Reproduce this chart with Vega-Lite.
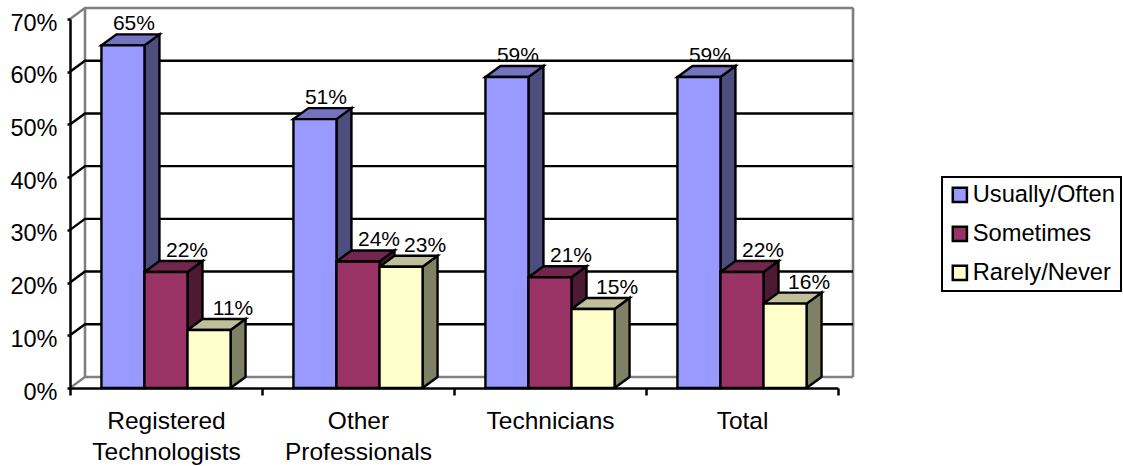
{
  "$schema": "https://vega.github.io/schema/vega-lite/v6.json",
  "width": 768,
  "height": 369,
  "autosize": {"type": "none"},
  "padding": {"left": 70, "top": 19, "right": 285, "bottom": 78},
  "background": "#ffffff",
  "config": {
    "view": {"stroke": null},
    "font": "Liberation Sans",
    "legend": {"strokeWidth": 2}
  },
  "datasets": {
    "ticks": [{"tick": 0}, {"tick": 0.1}, {"tick": 0.2}, {"tick": 0.3}, {"tick": 0.4}, {"tick": 0.5}, {"tick": 0.6}, {"tick": 0.7}],
    "answers": [
      {"group": "Registered Technologists", "series": "Usually/Often", "value": 0.65},
      {"group": "Registered Technologists", "series": "Sometimes", "value": 0.22},
      {"group": "Registered Technologists", "series": "Rarely/Never", "value": 0.11},
      {"group": "Other Professionals", "series": "Usually/Often", "value": 0.51},
      {"group": "Other Professionals", "series": "Sometimes", "value": 0.24},
      {"group": "Other Professionals", "series": "Rarely/Never", "value": 0.23},
      {"group": "Technicians", "series": "Usually/Often", "value": 0.59},
      {"group": "Technicians", "series": "Sometimes", "value": 0.21},
      {"group": "Technicians", "series": "Rarely/Never", "value": 0.15},
      {"group": "Total", "series": "Usually/Often", "value": 0.59},
      {"group": "Total", "series": "Sometimes", "value": 0.22},
      {"group": "Total", "series": "Rarely/Never", "value": 0.16}
    ]
  },
  "data": {"name": "answers"},
  "encoding": {
    "x": {
      "field": "group",
      "type": "nominal",
      "sort": ["Registered Technologists", "Other Professionals", "Technicians", "Total"],
      "scale": {"paddingInner": 0, "paddingOuter": 0},
      "title": null,
      "axis": {
        "labelAngle": 0,
        "labelExpr": "split(datum.label, ' ')",
        "labelLineHeight": 31,
        "labelFontSize": 24.5,
        "labelColor": "#000000",
        "labelFont": "Liberation Sans",
        "labelPadding": 14,
        "labelLimit": 300,
        "tickBand": "extent",
        "tickSize": 7,
        "tickWidth": 2.5,
        "tickColor": "#000000",
        "domainColor": "#000000",
        "domainWidth": 2.5,
        "grid": false,
        "zindex": 1
      }
    },
    "y": {
      "field": "value",
      "type": "quantitative",
      "scale": {"domain": [0, 0.7], "nice": false},
      "title": null,
      "axis": {
        "values": [0, 0.1, 0.2, 0.3, 0.4, 0.5, 0.6, 0.7],
        "format": ".0%",
        "labelFontSize": 23.5,
        "labelColor": "#000000",
        "labelFont": "Liberation Sans",
        "labelPadding": 10,
        "labelOffset": 4,
        "tickSize": 3,
        "tickWidth": 2.5,
        "tickColor": "#000000",
        "domainColor": "#000000",
        "domainWidth": 2.5,
        "grid": false,
        "zindex": 1
      }
    }
  },
  "layer": [
    {
      "data": {"name": "ticks"},
      "transform": [{"filter": "datum.tick < 0.65"}],
      "mark": {"type": "point", "shape": "M15,-11 L15,-64", "size": 4, "filled": false, "strokeWidth": 2.6, "opacity": 1, "color": "#808080"},
      "encoding": {
        "x": {"datum": "Registered Technologists", "bandPosition": 0},
        "y": {"field": "tick", "type": "quantitative"}
      }
    },
    {
      "data": {"name": "ticks"},
      "transform": [{"filter": "datum.tick < 0.65"}],
      "mark": {"type": "point", "shape": "M15,-11 L15,-64", "size": 4, "filled": false, "strokeWidth": 2.6, "opacity": 1, "color": "#808080"},
      "encoding": {
        "x": {"datum": "Total", "bandPosition": 1},
        "y": {"field": "tick", "type": "quantitative"}
      }
    },
    {
      "data": {"name": "ticks"},
      "mark": {"type": "point", "shape": "M0,0 L15,-11 L783,-11", "size": 4, "filled": false, "strokeWidth": 2.4, "opacity": 1},
      "encoding": {
        "x": {"datum": "Registered Technologists", "bandPosition": 0},
        "y": {"field": "tick", "type": "quantitative"},
        "color": {"condition": {"test": "datum.tick === 0 || datum.tick === 0.7", "value": "#808080"}, "value": "#000000"}
      }
    },
    {
      "data": {"values": [{"edge": "floor-right"}]},
      "mark": {"type": "point", "shape": "M0,0 L15,-11", "size": 4, "filled": false, "strokeWidth": 2.4, "opacity": 1, "color": "#000000"},
      "encoding": {
        "x": {"datum": "Total", "bandPosition": 1},
        "y": {"datum": 0}
      }
    },
    {
      "mark": {"type": "point", "shape": "M21.5,0 L36.5,-11 L36.5,420 L21.5,420 Z", "size": 4, "filled": true, "stroke": "#000000", "strokeWidth": 2.4, "opacity": 1, "clip": true},
      "encoding": {
        "xOffset": {"field": "series", "type": "nominal", "sort": ["Usually/Often", "Sometimes", "Rarely/Never"], "scale": {"paddingInner": 0, "paddingOuter": 0.73}},
        "color": {
          "field": "series", "type": "nominal", "legend": null,
          "scale": {"domain": ["Usually/Often", "Sometimes", "Rarely/Never"], "range": ["#4D4D80", "#4D1A33", "#808066"]}
        }
      }
    },
    {
      "mark": {"type": "point", "shape": "M21.5,0 L36.5,-11 L38.5,-9 L38.5,1 L21.5,1 Z", "size": 4, "filled": true, "color": "#ffffff", "strokeWidth": 0, "opacity": 1},
      "encoding": {
        "xOffset": {"field": "series", "type": "nominal", "sort": ["Usually/Often", "Sometimes", "Rarely/Never"]},
        "y": {"datum": 0}
      }
    },
    {
      "mark": {"type": "point", "shape": "M21.5,0 L36.5,-11", "size": 4, "filled": false, "color": "#000000", "strokeWidth": 2.4, "opacity": 1},
      "encoding": {
        "xOffset": {"field": "series", "type": "nominal", "sort": ["Usually/Often", "Sometimes", "Rarely/Never"]},
        "y": {"datum": 0}
      }
    },
    {
      "mark": {"type": "point", "shape": "M-21.5,0 L21.5,0 L36.5,-11 L-6.5,-11 Z", "size": 4, "filled": true, "stroke": "#000000", "strokeWidth": 2.4, "opacity": 1},
      "encoding": {
        "xOffset": {"field": "series", "type": "nominal", "sort": ["Usually/Often", "Sometimes", "Rarely/Never"]},
        "color": {
          "field": "series", "type": "nominal", "legend": null,
          "scale": {"domain": ["Usually/Often", "Sometimes", "Rarely/Never"], "range": ["#7373BF", "#73264D", "#BFBF99"]}
        }
      }
    },
    {
      "mark": {"type": "bar", "stroke": "#000000", "strokeWidth": 2.4},
      "encoding": {
        "xOffset": {"field": "series", "type": "nominal", "sort": ["Usually/Often", "Sometimes", "Rarely/Never"]},
        "y2": {"datum": 0},
        "color": {
          "field": "series", "type": "nominal", "title": null,
          "scale": {"domain": ["Usually/Often", "Sometimes", "Rarely/Never"], "range": ["#9999FF", "#993366", "#FFFFCC"]},
          "legend": {
            "orient": "none",
            "legendX": 872,
            "legendY": 158,
            "symbolType": "square",
            "symbolSize": 200,
            "symbolStrokeColor": "#000000",
            "symbolStrokeWidth": 2.5,
            "labelFontSize": 23.7,
            "labelFont": "Liberation Sans",
            "labelColor": "#000000",
            "labelOffset": 1,
            "labelLimit": 300,
            "rowPadding": 14,
            "padding": 6,
            "strokeColor": "#000000",
            "fillColor": "#ffffff"
          }
        }
      }
    },
    {
      "transform": [{"filter": "datum.series === 'Usually/Often'"}],
      "mark": {"type": "text", "fontSize": 21, "font": "Liberation Sans", "color": "#000000", "baseline": "alphabetic", "dx": 11, "dy": -15},
      "encoding": {
        "xOffset": {"field": "series", "type": "nominal", "sort": ["Usually/Often", "Sometimes", "Rarely/Never"]},
        "text": {"field": "value", "type": "quantitative", "format": ".0%"}
      }
    },
    {
      "transform": [{"filter": "datum.series === 'Sometimes'"}],
      "mark": {"type": "text", "fontSize": 21, "font": "Liberation Sans", "color": "#000000", "baseline": "alphabetic", "dx": 21, "dy": -15},
      "encoding": {
        "xOffset": {"field": "series", "type": "nominal", "sort": ["Usually/Often", "Sometimes", "Rarely/Never"]},
        "text": {"field": "value", "type": "quantitative", "format": ".0%"}
      }
    },
    {
      "transform": [{"filter": "datum.series === 'Rarely/Never'"}],
      "mark": {"type": "text", "fontSize": 21, "font": "Liberation Sans", "color": "#000000", "baseline": "alphabetic", "dx": 24, "dy": -15},
      "encoding": {
        "xOffset": {"field": "series", "type": "nominal", "sort": ["Usually/Often", "Sometimes", "Rarely/Never"]},
        "text": {"field": "value", "type": "quantitative", "format": ".0%"}
      }
    }
  ],
  "resolve": {"scale": {"color": "independent"}}
}
